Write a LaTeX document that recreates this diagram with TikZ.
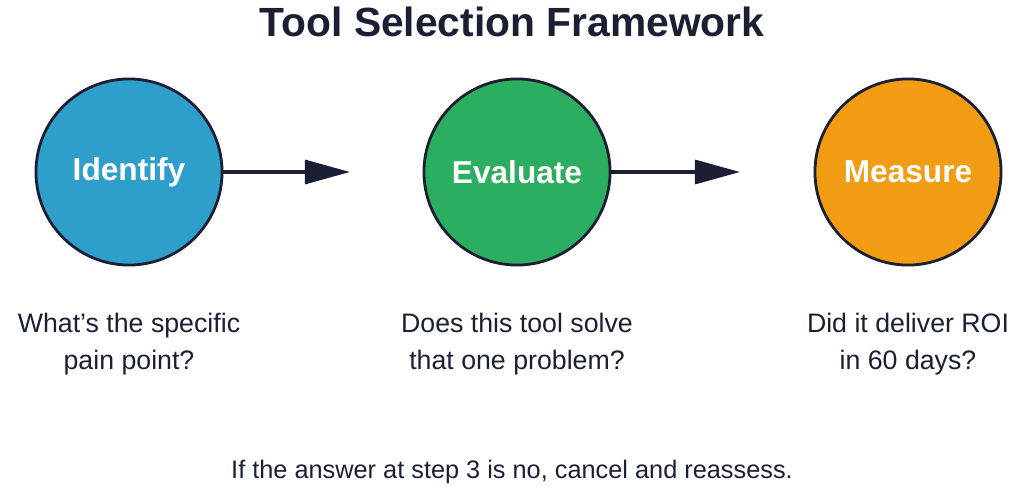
\documentclass[tikz,border=0pt]{standalone}
\usepackage{fontspec}
\setmainfont{Liberation Sans}
\usetikzlibrary{arrows.meta}

\definecolor{navy}{HTML}{1B1F33}
\definecolor{stepblue}{HTML}{2E9FCA}
\definecolor{stepgreen}{HTML}{2BAE5F}
\definecolor{steporange}{HTML}{F29C14}

\tikzset{
  stepcircle/.style={circle, draw=navy, line width=0.8pt, minimum size=1.86cm,
    text=white, font=\fontsize{9}{10}\selectfont\bfseries},
  steptext/.style={align=center, text=navy, font=\fontsize{7.6}{10.6}\selectfont},
  flow/.style={navy, line width=0.9pt, -{Triangle[length=0.45cm, width=0.24cm]}}
}

\begin{document}
\begin{tikzpicture}[x=0.01cm, y=-0.01cm]
    \useasboundingbox (0,0) rectangle (1024,497);

    \node[font=\fontsize{11.6}{13}\selectfont\bfseries, text=navy] (T) at (512,22) {Tool Selection Framework};

    \node[stepcircle, fill=stepblue] (S1) at (129,172) {Identify};
    \node[stepcircle, fill=stepgreen] (S2) at (517,172) {Evaluate};
    \node[stepcircle, fill=steporange] (S3) at (908,172) {Measure};

    \coordinate (A1) at (350,172);
    \coordinate (A2) at (740,172);

    \draw[flow] (S1) -- (A1);
    \draw[flow] (S2) -- (A2);

    \node[steptext] (L1) at (129,344) {What's the specific\\pain point?};
    \node[steptext] (L2) at (517,344) {Does this tool solve\\that one problem?};
    \node[steptext] (L3) at (908,344) {Did it deliver ROI\\in 60 days?};

    \node[steptext, font=\fontsize{7.2}{9}\selectfont] (N) at (512,472) {If the answer at step 3 is no, cancel and reassess.};
\end{tikzpicture}
\end{document}
